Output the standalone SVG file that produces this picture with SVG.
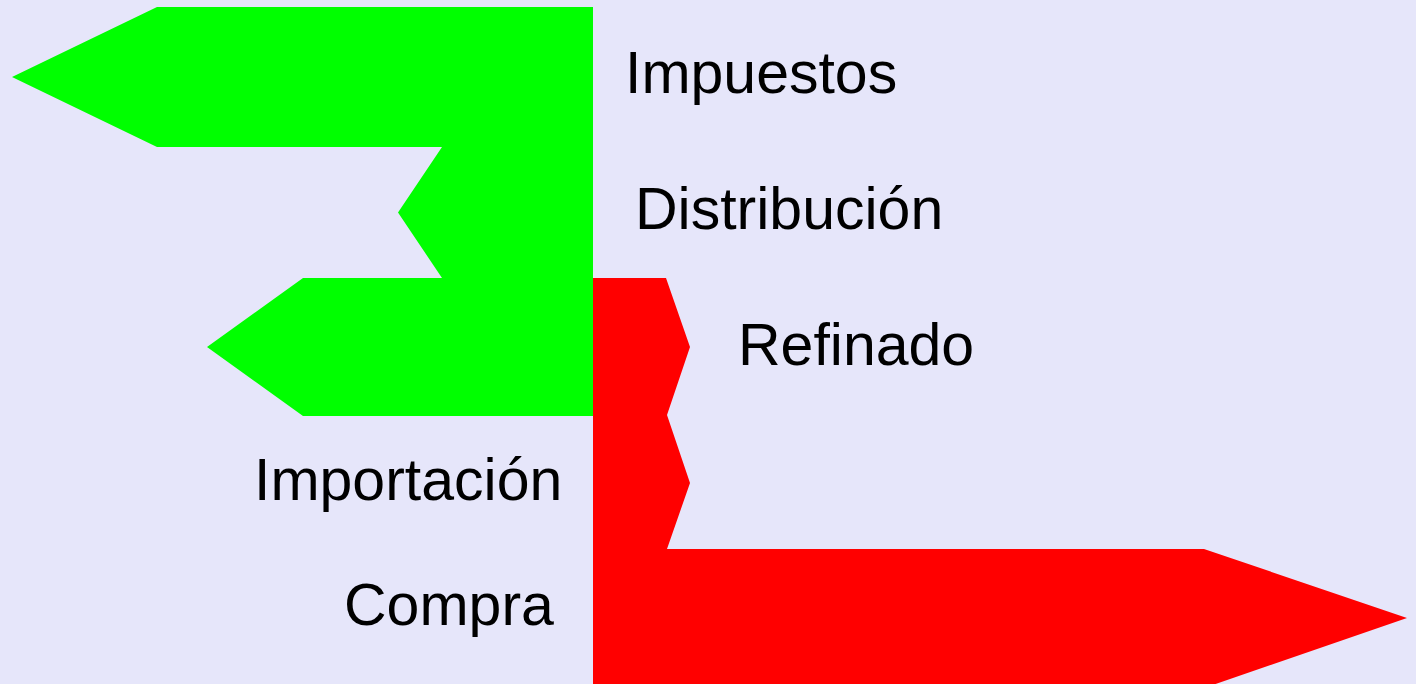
<svg xmlns="http://www.w3.org/2000/svg" width="1416" height="684" viewBox="0 0 1416 684">
<style>
.lbl{font-family:"Liberation Sans",Arial,sans-serif;font-size:59px;fill:#000}
</style>
<rect x="0" y="0" width="1416" height="684" fill="#E6E6FA"/>
<g id="green-flow">
<polygon fill="#00FF00" points="157,7 593,7 593,416 303,416 207,347 303,278 442,278 398,212.5 442,147 157,147 12,77"/>
</g>
<g id="red-flow">
<polygon fill="#FF0000" points="593,278 666,278 690,347 667,415 690,483 667,549 1204,549 1407,618 1204,688 593,688"/>
</g>
<g id="connectors"></g>
<g id="labels">
<text class="lbl" x="625" y="93">Impuestos</text>
<text class="lbl" x="635" y="229">Distribución</text>
<text class="lbl" x="738" y="365">Refinado</text>
<text class="lbl" x="254" y="500">Importación</text>
<text class="lbl" x="344" y="625">Compra</text>
</g>
</svg>
